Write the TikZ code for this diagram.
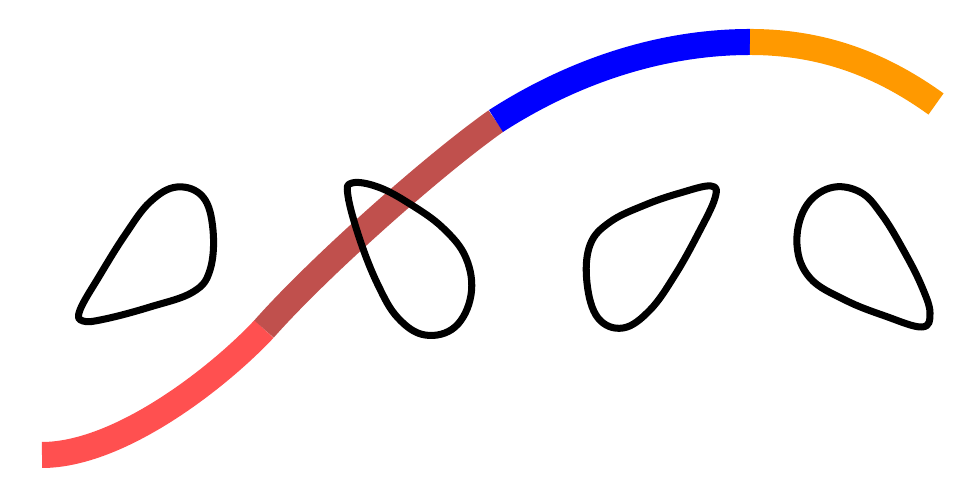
\documentclass[tikz,border=0pt]{standalone}
\definecolor{segRed}{RGB}{255,80,80}
\definecolor{segBrown}{RGB}{192,80,77}
\definecolor{segBlue}{RGB}{0,0,255}
\definecolor{segOrange}{RGB}{255,153,0}
\newcommand{\myBand}[4]{
\draw[band, #1] (#2) .. controls #3 .. (#4);
}
\newcommand{\myBlob}[1]{
\draw[blob] plot[smooth cycle, tension=0.65] coordinates {#1};
}
\begin{document}
\begin{tikzpicture}[
	band/.style={line width=7.4pt, line cap=butt},
	blob/.style={line width=2pt, black, line join=round}]
	\useasboundingbox (0,0) rectangle (9.67,5);
	\coordinate (A) at (0.42,0.45);
	\coordinate (B) at (2.64,1.71);
	\coordinate (C) at (4.96,3.79);
	\coordinate (D) at (7.50,4.58);
	\coordinate (E) at (9.36,3.96);

	\myBand{segRed}{A}{(1.20,0.45) and (2.19,1.23)}{B}
	\myBand{segBrown}{B}{(3.17,2.31) and (4.31,3.33)}{C}
	\myBand{segBlue}{C}{(5.72,4.28) and (6.60,4.58)}{D}
	\myBand{segOrange}{D}{(8.20,4.58) and (8.79,4.37)}{E}

	% the four drops
	\myBlob{(0.83,1.79) (0.80,1.90) (1.00,2.25) (1.25,2.65) (1.50,2.98) (1.77,3.13) (2.03,3.03) (2.13,2.70) (2.10,2.30) (1.93,2.08) (1.50,1.93) (1.05,1.81)}
	\myBlob{(3.52,3.17) (3.48,3.04) (3.60,2.60) (3.78,2.15) (3.98,1.82) (4.25,1.65) (4.55,1.73) (4.71,2.05) (4.66,2.42) (4.43,2.72) (4.10,2.96) (3.78,3.13)}
	\myBlob{(7.11,3.14) (7.15,3.02) (6.98,2.66) (6.75,2.25) (6.50,1.90) (6.23,1.72) (5.98,1.82) (5.87,2.17) (5.90,2.55) (6.10,2.78) (6.45,2.95) (6.80,3.07)}
	\myBlob{(9.30,1.87) (9.22,1.73) (8.85,1.84) (8.45,2.00) (8.10,2.22) (7.97,2.55) (8.05,2.92) (8.30,3.12) (8.60,3.08) (8.82,2.85) (9.05,2.47) (9.22,2.13)}
\end{tikzpicture}
\end{document}
